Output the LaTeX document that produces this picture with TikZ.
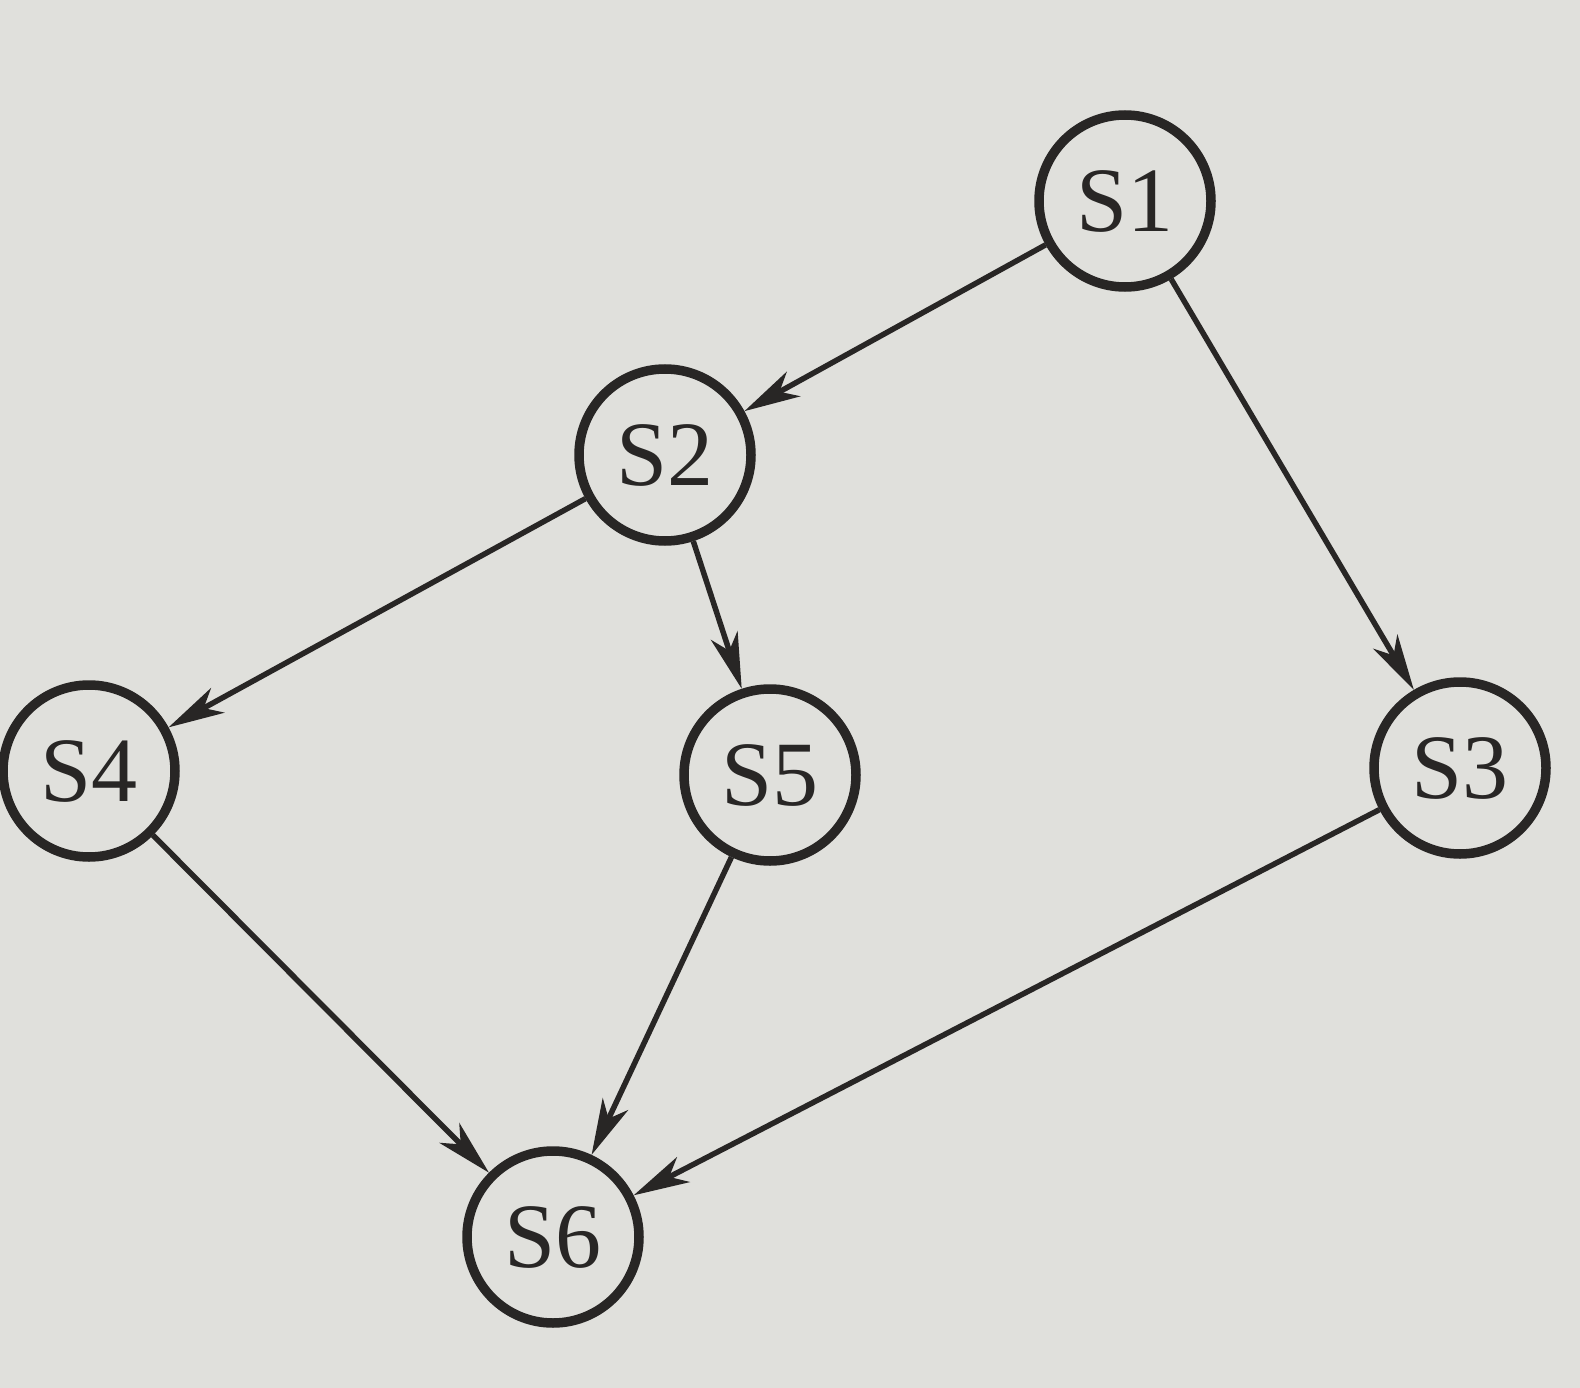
\documentclass[tikz,border=0pt]{standalone}
\usepackage{fontspec}
\setmainfont{Liberation Serif}
\usetikzlibrary{arrows.meta}
\definecolor{paper}{RGB}{224,224,220}
\definecolor{ink}{RGB}{40,38,37}
\begin{document}
\begin{tikzpicture}[x=1pt,y=-1pt,
  state/.style={circle,draw=ink,line width=9.5pt,fill=paper,inner sep=0pt,minimum size=172pt,
    font=\fontsize{92}{105}\selectfont,text=ink},
  edge/.style={draw=ink,line width=5.5pt,-{Stealth[length=56pt,width=28pt,inset=16pt]}}]
\fill[paper] (0,0) rectangle (1580,1388);
\useasboundingbox (0,0) rectangle (1580,1388);
\node[state] (s1) at (1125,201) {S1};
\node[state] (s2) at (665,455) {S2};
\node[state] (s4) at (89,771) {S4};
\node[state] (s5) at (770,775) {S5};
\node[state] (s3) at (1460,768) {S3};
\node[state] (s6) at (553,1237) {S6};
\draw[edge] (s1) -- (s2);
\draw[edge] (s1) -- (s3);
\draw[edge] (s2) -- (s4);
\draw[edge] (s2) -- (s5);
\draw[edge] (s4) -- (s6);
\draw[edge] (s5) -- (s6);
\draw[edge] (s3) -- (s6);
\end{tikzpicture}
\end{document}
